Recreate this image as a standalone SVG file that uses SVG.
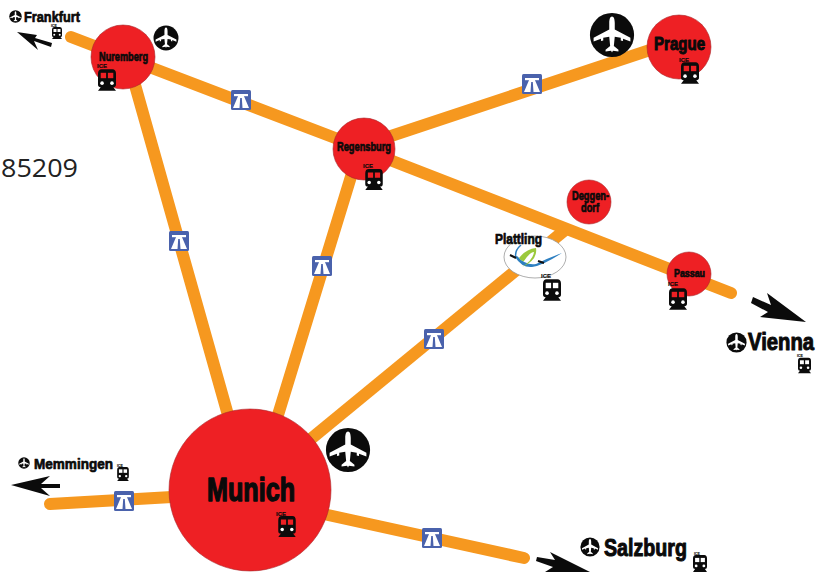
<svg xmlns="http://www.w3.org/2000/svg" xmlns:xlink="http://www.w3.org/1999/xlink" width="823" height="575" viewBox="0 0 823 575">
<style>
.road{stroke:#f6981f;stroke-width:12;fill:none;stroke-linecap:round}
.city{fill:#ee2024;stroke:#a8262a;stroke-width:.6}
text{font-family:"Liberation Sans Narrow","Liberation Sans",sans-serif;font-weight:bold;fill:#0a0a0a;stroke:#0a0a0a;stroke-width:.5;stroke-linejoin:round}
.ice{font-size:6px;stroke-width:.15}
.tiny{font-size:3.500px;stroke-width:.1}
.m{stroke-width:.7}
.l{stroke-width:1}
.xl{stroke-width:1.400}
</style>
<defs>
<symbol id="plane" viewBox="-25 -25 50 50" overflow="visible">
<circle r="24" fill="#0b0b0b"/>
<path fill="#fff" d="M0-20C2-20 3-17 3-13V-6L20 3V7L12 4V6.500L9.500 6V3L3 2 2 12 7 16V18L1 17 0 19-1 17-7 18V16L-2 12-3 2-9.500 3V6L-12 6.500V4L-20 7V3L-3-6V-13C-3-17-2-20 0-20Z"/>
</symbol>
<symbol id="train" viewBox="0 0 20 24" overflow="visible">
<path fill="#0b0b0b" d="M4 0H16Q20 0 20 5V17Q20 20 17 20L20 24H0L3 20Q0 20 0 17V5Q0 0 4 0Z"/>
<rect x="3" y="4" width="6" height="6" fill="#ee2024"/><rect x="11" y="4" width="6" height="6" fill="#ee2024"/>
<circle cx="4.500" cy="15.500" r="2" fill="#fff"/><circle cx="15.500" cy="15.500" r="2" fill="#fff"/>
</symbol>
<symbol id="trainw" viewBox="0 0 20 24" overflow="visible">
<path fill="#0b0b0b" d="M4 0H16Q20 0 20 5V17Q20 20 17 20L20 24H0L3 20Q0 20 0 17V5Q0 0 4 0Z"/>
<rect x="3" y="4" width="6" height="6" fill="#fff"/><rect x="11" y="4" width="6" height="6" fill="#fff"/>
<circle cx="4.500" cy="15.500" r="2" fill="#fff"/><circle cx="15.500" cy="15.500" r="2" fill="#fff"/>
</symbol>
<g id="sign">
<rect x="-10" y="-10" width="20" height="20" rx="1.500" fill="#4a62ac"/>
<path fill="#fff" d="M-8 8-2.500-5H2.500L8 8H1.500L.8-2H-.8L-1.500 8Z"/>
<rect x="-7" y="-6" width="14" height="2.200" fill="#fff"/>
</g>
</defs>
<g id="connectors">
<path class="road" d="M71 37L364 149"/>
<path class="road" d="M135 85L228 415"/>
<path class="road" d="M353 170L278 415"/>
<path class="road" d="M385 138L650 50"/>
<path class="road" d="M390 160L731 293"/>
<path class="road" style="stroke-linecap:butt" d="M295 452L565 230"/>
<path class="road" d="M50 504L172 497"/>
<path class="road" d="M328 515L524 558"/>
<g fill="#0b0b0b">
<path id="arrow-frankfurt" d="M17 32L37 35 35 38 52 43 51 47 34 41 38 50Z"/>
<path id="arrow-memmingen" d="M11 485L50 476 41 484H60V488H41L50 496Z"/>
<path id="arrow-vienna" d="M806 322L767 293 771 305 753 297 751 303 768 312 760 317Z"/>
<path id="arrow-salzburg" d="M590 572L550 552 555 560 537 557 536 561 553 567 545 572Z"/>
</g>
<g id="signs">
<use xlink:href="#sign" href="#sign" x="241" y="100"/>
<use xlink:href="#sign" href="#sign" x="532" y="84"/>
<use xlink:href="#sign" href="#sign" x="179" y="241"/>
<use xlink:href="#sign" href="#sign" x="322" y="266"/>
<use xlink:href="#sign" href="#sign" x="434" y="339"/>
<use xlink:href="#sign" href="#sign" x="124" y="501"/>
<use xlink:href="#sign" href="#sign" x="432" y="538"/>
</g>
</g>
<text x="1" y="177" font-size="26" textLength="77" lengthAdjust="spacingAndGlyphs" style="font-family:'Open Sans',sans-serif;font-weight:normal;stroke:none;fill:#222">85209</text>
<g id="nuremberg"><circle class="city" cx="123" cy="57" r="32"/><use href="#plane" x="153" y="25" width="26" height="26"/>
<text x="99" y="61" font-size="12" class="m" textLength="49" lengthAdjust="spacingAndGlyphs">Nuremberg</text>
<text class="ice" x="97" y="68">ICE</text><use href="#train" x="98" y="69" width="18" height="22"/></g>
<g id="regensburg"><circle class="city" cx="364" cy="149" r="31"/>
<text x="337" y="151" font-size="12" class="m" textLength="54" lengthAdjust="spacingAndGlyphs">Regensburg</text>
<text class="ice" x="363" y="168">ICE</text><use href="#train" x="365" y="169" width="18" height="21"/></g>
<g id="prague"><circle class="city" cx="679" cy="47" r="32"/><use href="#plane" x="589" y="12" width="46" height="46"/>
<text x="654" y="50" font-size="18" class="l" textLength="51" lengthAdjust="spacingAndGlyphs">Prague</text>
<text class="ice" x="679" y="62">ICE</text><use href="#train" x="681" y="62" width="18" height="22"/></g>
<g id="deggendorf"><circle class="city" cx="589" cy="202" r="22"/>
<text x="572" y="200" font-size="12" class="m" textLength="37" lengthAdjust="spacingAndGlyphs">Deggen-</text>
<text x="581" y="212" font-size="12" class="m" textLength="18" lengthAdjust="spacingAndGlyphs">dorf</text></g>
<g id="plattling"><ellipse cx="535" cy="257" rx="31" ry="21" fill="#fff" stroke="#999" stroke-width=".8"/>
<path d="M515 257Q522 268 532 267T562 253Q548 258 536 264Q526 266 517 256Z" fill="#2d7fc1"/>
<path d="M516 258Q514 251 521 245" fill="none" stroke="#2d7fc1" stroke-width="1.500"/>
<path d="M522 267Q538 260 536 248 526 249 519 258 522 262 524 261 530 252 534 252 533 260 522 267Z" fill="#9bc93c"/>
<path d="M510 255L516 258M538 261L544 263" stroke="#111" stroke-width="2"/>
<text x="495" y="244" font-size="14" class="m" textLength="47" lengthAdjust="spacingAndGlyphs">Plattling</text>
<text class="ice" x="541" y="278">ICE</text><use href="#trainw" x="543" y="279" width="18" height="22"/></g>
<g id="passau"><circle class="city" cx="689" cy="274" r="22"/>
<text x="674" y="277" font-size="11" class="m" textLength="31" lengthAdjust="spacingAndGlyphs">Passau</text>
<text class="ice" x="668" y="286">ICE</text><use href="#train" x="669" y="288" width="18" height="22"/></g>
<g id="munich"><circle class="city" cx="250" cy="490" r="81"/><use href="#plane" x="325" y="427" width="46" height="46"/>
<text x="207" y="501" font-size="33" class="xl" textLength="88" lengthAdjust="spacingAndGlyphs">Munich</text>
<text class="ice" x="276" y="516">ICE</text><use href="#train" x="278" y="516" width="18" height="21"/></g>
<g id="frankfurt"><use href="#plane" x="9" y="10" width="13" height="13"/>
<text x="24" y="22" font-size="15" class="m" textLength="56" lengthAdjust="spacingAndGlyphs">Frankfurt</text>
<text class="tiny" x="51" y="27">ICE</text><use href="#trainw" x="52" y="27" width="10" height="12"/></g>
<g id="memmingen"><use href="#plane" x="18" y="457" width="12" height="12"/>
<text x="34" y="469" font-size="15" class="m" textLength="79" lengthAdjust="spacingAndGlyphs">Memmingen</text>
<text class="tiny" x="117" y="466.500">ICE</text><use href="#trainw" x="117" y="467" width="12" height="14"/></g>
<g id="vienna"><use href="#plane" x="726" y="332" width="21" height="21"/>
<text x="748" y="350" font-size="23" class="l" textLength="66" lengthAdjust="spacingAndGlyphs">Vienna</text>
<text class="tiny" x="797" y="357">ICE</text><use href="#trainw" x="798" y="357" width="13" height="17"/></g>
<g id="salzburg"><use href="#plane" x="580" y="537" width="20" height="20"/>
<text x="604" y="556" font-size="24" class="l" textLength="83" lengthAdjust="spacingAndGlyphs">Salzburg</text>
<text class="tiny" x="694" y="555">ICE</text><use href="#trainw" x="693" y="555" width="14" height="17"/></g>
</svg>
